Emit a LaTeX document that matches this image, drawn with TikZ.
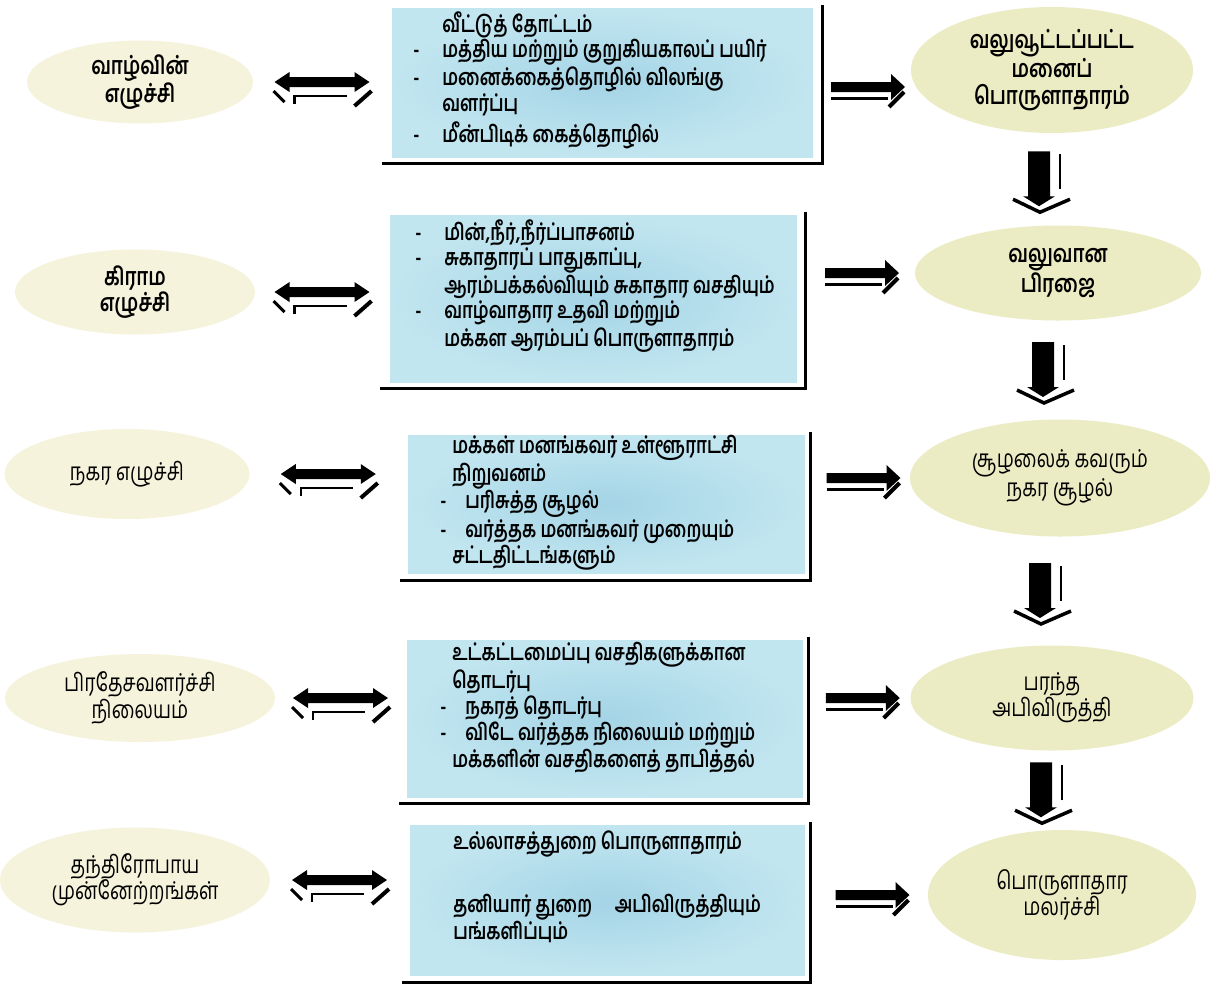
\documentclass[tikz,border=0pt]{standalone}
\usepackage{fontspec}
\newfontfamily\tamil[Script=Tamil,FakeStretch=0.78]{Hind Madurai}
\newfontfamily\tamilbox[Script=Tamil,FakeStretch=0.76]{Hind Madurai}
\usetikzlibrary{shapes.geometric,calc}
\definecolor{boxblue}{HTML}{C2E6F0}
\definecolor{boxdeep}{HTML}{A4D4E6}
\definecolor{lowfill}{HTML}{F5F3DC}
\definecolor{highfill}{HTML}{ECECC4}
\newcommand{\dsh}[1][5.8mm]{\makebox[#1][l]{-}}
\newcommand{\skp}[1][5.8mm]{\makebox[#1]{}}
\begin{document}
\begin{tikzpicture}[x=0.2mm,y=-0.2mm,
  lowoval/.style={ellipse,fill=lowfill,inner sep=0pt,align=center,font=\tamil\fontsize{14}{15}\selectfont},
  highoval/.style={ellipse,fill=highfill,inner sep=0pt,align=center,font=\tamil\fontsize{14}{15}\selectfont},
  heavy/.style={font=\tamil\bfseries\fontsize{14}{15}\selectfont},
  infobox/.style={rectangle,inner color=boxdeep,outer color=boxblue,inner sep=0pt},
  infotext/.style={anchor=west,align=left,inner sep=0pt,font=\tamilbox\bfseries\fontsize{13}{13.2}\selectfont},
  boxedge/.style={line width=0.7mm},
  dblarrow/.pic={
    \fill (-48,0) -- (-33,-10) -- (-33,-5) -- (32,-5) -- (32,-10) -- (47,0) -- (32,10) -- (32,5) -- (-33,5) -- (-33,10) -- cycle;
    \draw[line width=0.6mm] (-49,9) -- (-38,20);
    \draw[line width=0.5mm] (-28,22) -- (-28,14) -- (24,14);
    \draw[line width=0.8mm] (32,24) -- (49,9);},
  rarrow/.pic={
    \fill (-31,-5) -- (29,-5) -- (29,-13) -- (43,0) -- (29,13) -- (29,5) -- (-31,5) -- cycle;
    \draw[line width=0.6mm] (-31,11) -- (26,11);
    \draw[line width=0.8mm] (27,20) -- (42,5);},
  darrow/.pic={
    \fill (-12,-28) -- (10,-28) -- (10,17) -- (15,17) -- (-1,27) -- (-17,17) -- (-12,17) -- cycle;
    \draw[line width=0.4mm] (20,-25) -- (20,10);
    \draw[line width=0.7mm] (-27,20) -- (0,33) -- (30,20);}]
\fill[white] (0,0) rectangle (1221,988);
\useasboundingbox (0,0) rectangle (1221,988);

\node[lowoval,heavy,minimum width=45.2mm,minimum height=16.6mm] (l1) at (140,82) {வாழ்வின்\\எழுச்சி};
\node[lowoval,heavy,minimum width=48mm,minimum height=17mm] (l2) at (135,292) {கிராம\\எழுச்சி};
\node[lowoval,minimum width=49mm,minimum height=18mm] (l3) at (127,474) {நகர எழுச்சி};
\node[lowoval,minimum width=54mm,minimum height=17.6mm] (l4) at (140,698) {பிரதேசவளர்ச்சி\\நிலையம்};
\node[lowoval,minimum width=54mm,minimum height=21mm] (l5) at (135,880) {தந்திரோபாய\\முன்னேற்றங்கள்};

\node[infobox,minimum width=84.2mm,minimum height=29.8mm] (b1) at (602.5,82.5) {};
\node[infobox,minimum width=81.4mm,minimum height=33.4mm] (b2) at (593.5,298.5) {};
\node[infobox,minimum width=79.4mm,minimum height=27.6mm] (b3) at (606.5,504) {};
\node[infobox,minimum width=79.2mm,minimum height=31.4mm] (b4) at (605,718.5) {};
\node[infobox,minimum width=79mm,minimum height=30mm] (b5) at (607.5,900) {};
\draw[boxedge] ($(b1.north east)+(9,-3)$) |- ($(b1.south west)+(-10,6)$);
\draw[boxedge] ($(b2.north east)+(8,-3)$) |- ($(b2.south west)+(-10,6)$);
\draw[boxedge] ($(b3.north east)+(5,-3)$) |- ($(b3.south west)+(-8,7)$);
\draw[boxedge] ($(b4.north east)+(5,-3)$) |- ($(b4.south west)+(-8,6)$);
\draw[boxedge] ($(b5.north east)+(5,-3)$) |- ($(b5.south west)+(-8,7)$);

\node[infotext] (t1) at (413,80) {\skp வீட்டுத் தோட்டம்\\
  \dsh மத்திய மற்றும் குறுகியகாலப் பயிர்\\
  \dsh மனைக்கைத்தொழில் விலங்கு\\
  \skp வளர்ப்பு\\[2pt]
  \dsh மீன்பிடிக் கைத்தொழில்};
\node[infotext] (t2) at (415,286) {\dsh மின்,நீர்,நீர்ப்பாசனம்\\
  \dsh சுகாதாரப் பாதுகாப்பு,\\
  \skp ஆரம்பக்கல்வியும் சுகாதார வசதியும்\\
  \dsh வாழ்வாதார உதவி மற்றும்\\
  \skp மக்கள ஆரம்பப் பொருளாதாரம்};
\node[infotext] (t3) at (440,503) {\skp[2.4mm]மக்கள் மனங்கவர் உள்ளூராட்சி\\
  \skp[2.4mm]நிறுவனம்\\
  \dsh[5mm]பரிசுத்த சூழல்\\
  \dsh[5mm]வர்த்தக மனங்கவர் முறையும்\\
  \skp[2.4mm]சட்டதிட்டங்களும்};
\node[infotext] (t4) at (440,708) {\skp[2.4mm]உட்கட்டமைப்பு வசதிகளுக்கான\\
  \skp[2.4mm]தொடர்பு\\
  \dsh[5mm]நகரத் தொடர்பு\\
  \dsh[5mm]விடே வர்த்தக நிலையம் மற்றும்\\
  \skp[2.4mm]மக்களின் வசதிகளைத் தாபித்தல்};
\node[infotext] (t5) at (453,887) {உல்லாசத்துறை பொருளாதாரம்\\[7mm]
  தனியார் துறை\quad அபிவிருத்தியும்\\
  பங்களிப்பும்};

\node[highoval,heavy,minimum width=56.4mm,minimum height=25.2mm] (r1) at (1052,70) {வலுவூட்டப்பட்ட\\மனைப்\\பொருளாதாரம்};
\node[highoval,heavy,minimum width=57.2mm,minimum height=19mm] (r2) at (1058,273) {வலுவான\\பிரஜை};
\node[highoval,minimum width=60mm,minimum height=23.4mm] (r3) at (1060,478) {சூழலைக் கவரும்\\நகர சூழல்};
\node[highoval,minimum width=56.6mm,minimum height=21mm] (r4) at (1052,698) {பரந்த\\அபிவிருத்தி};
\node[highoval,minimum width=53.6mm,minimum height=26mm] (r5) at (1062,895) {பொருளாதார\\மலர்ச்சி};

\pic at ($(l1.east)!.5!(b1.west |- l1.east)$) {dblarrow};
\pic at ($(l2.east)!.5!(b2.west |- l2.east)$) {dblarrow};
\pic at ($(l3.east)!.5!(b3.west |- l3.east)$) {dblarrow};
\pic at ($(l4.east)!.5!(b4.west |- l4.east)$) {dblarrow};
\pic at ($(l5.east)!.5!(b5.west |- l5.east)$) {dblarrow};

\pic at ($(b1.east |- r1.west)!.5!(r1.west)+(0,17)$) {rarrow};
\pic at ($(b2.east |- r2.west)!.5!(r2.west)$) {rarrow};
\pic at ($(b3.east |- r3.west)!.5!(r3.west)$) {rarrow};
\pic at ($(b4.east |- r4.west)!.5!(r4.west)$) {rarrow};
\pic at ($(b5.east |- r5.west)!.5!(r5.west)$) {rarrow};

\pic at ($(r1.south)!.5!(r2.north)+(-15,0)$) {darrow};
\pic at ($(r2.south)!.5!(r3.north)+(-15,0)$) {darrow};
\pic at ($(r3.south)!.5!(r4.north)+(-15,0)$) {darrow};
\pic at ($(r4.south)!.5!(r5.north)+(-15,0)$) {darrow};
\end{tikzpicture}
\end{document}
